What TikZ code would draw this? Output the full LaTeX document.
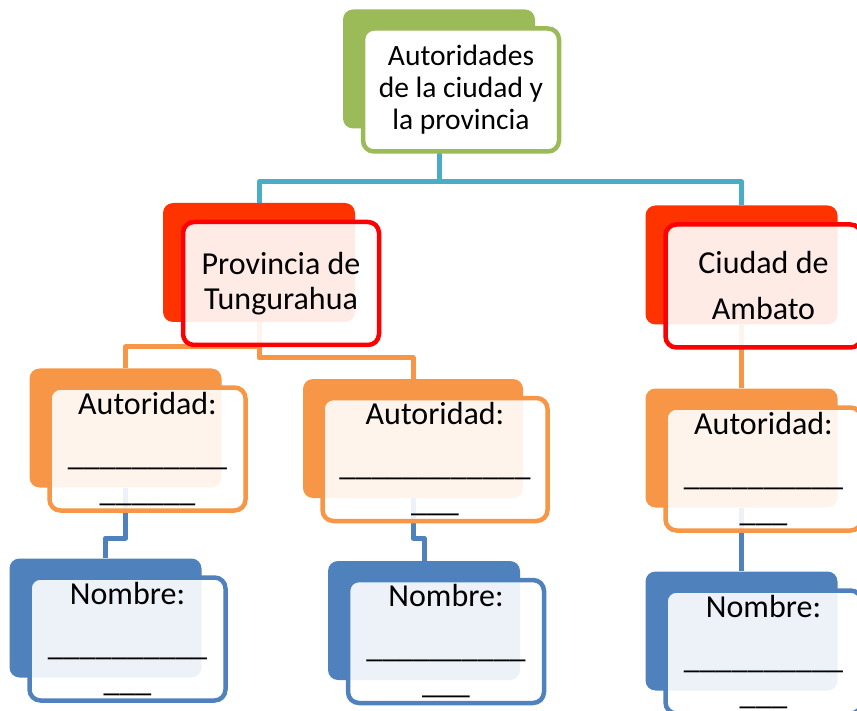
\documentclass[tikz,border=0pt]{standalone}
\usepackage{fontspec}
\setmainfont{Carlito}
\usetikzlibrary{positioning}
\definecolor{cgreen}{HTML}{9BBB59}
\definecolor{cred}{HTML}{FF3300}
\definecolor{credline}{HTML}{FF0000}
\definecolor{corange}{HTML}{F79646}
\definecolor{cblue}{HTML}{4F81BD}
\definecolor{ctop}{HTML}{4BACC6}

\begin{document}
\begin{tikzpicture}[x=1pt,y=-1pt,
 back/.style={rectangle,rounded corners=10pt,fill=#1,minimum width=192pt,minimum height=119pt,inner sep=0pt},
 front/.style={rectangle,rounded corners=11pt,draw=#1,line width=4.5pt,fill=white,fill opacity=0.9,text opacity=1,
   minimum width=196pt,minimum height=123pt,inner sep=0pt,align=center,font=\fontsize{32}{36}\selectfont},
 link/.style={line width=5pt,line join=round}]
\useasboundingbox (0,0) rectangle (857,711);
% back boxes
\node[back=cgreen] (tb) at (439,69) {};
\node[back=cred] (pb) at (259,262.5) {};
\node[back=cred] (cb) at (741.5,265) {};
\node[back=corange] (a1b) at (125.5,428) {};
\node[back=corange,minimum width=220pt] (a2b) at (413,438.5) {};
\node[back=corange] (a3b) at (741.5,448) {};
\node[back=cblue] (n1b) at (105.5,618) {};
\node[back=cblue] (n2b) at (424,620.5) {};
\node[back=cblue] (n3b) at (741.5,631) {};
% connectors
\coordinate (jt) at (439,182);
\coordinate (jpl) at (259,347);
\coordinate (jpr) at (259,358);
\coordinate (jal) at (125.5,538);
\coordinate (jam) at (413,538);
\draw[link,ctop] (tb.south) -- (jt) -| (pb.north);
\draw[link,ctop] (jt) -| (cb.north);
\draw[link,corange] (pb.south) -- (jpl) -| (a1b.north);
\draw[link,corange] (pb.south) -- (jpr) -| (a2b.north);
\draw[link,corange] (cb.south) -- (a3b.north);
\draw[link,cblue] (a1b.south) -- (jal) -| (n1b.north);
\draw[link,cblue] (a2b.south) -- (jam) -| (n2b.north);
\draw[link,cblue] (a3b.south) -- (n3b.north);
% front boxes
\node[front=cgreen,fill opacity=1,font=\fontsize{29.5}{32}\selectfont] (tf) at ([shift={(22,21)}]tb.center)
  {Autoridades\\de la ciudad y\\la provincia};
\node[front=credline] (pf) at ([shift={(22,21)}]pb.center) {Provincia de\\[-1pt]Tungurahua};
\node[front=credline] (cf) at ([shift={(22,21)}]cb.center) {Ciudad de\\[10pt]Ambato};
\node[front=corange] (a1f) at ([shift={(22,21)}]a1b.center)
  {Autoridad:\\[15pt]\_\_\_\_\_\_\_\_\_\_\\\_\_\_\_\_\_};
\node[front=corange,minimum width=225pt] (a2f) at ([shift={(22,21)}]a2b.center)
  {Autoridad:\\[15pt]\_\_\_\_\_\_\_\_\_\_\_\_\\\_\_\_};
\node[front=corange] (a3f) at ([shift={(22,21)}]a3b.center)
  {Autoridad:\\[15pt]\_\_\_\_\_\_\_\_\_\_\\\_\_\_};
\node[front=cblue] (n1f) at ([shift={(22,21)}]n1b.center)
  {Nombre:\\[15pt]\_\_\_\_\_\_\_\_\_\_\\\_\_\_};
\node[front=cblue] (n2f) at ([shift={(22,21)}]n2b.center)
  {Nombre:\\[15pt]\_\_\_\_\_\_\_\_\_\_\\\_\_\_};
\node[front=cblue] (n3f) at ([shift={(22,21)}]n3b.center)
  {Nombre:\\[15pt]\_\_\_\_\_\_\_\_\_\_\\\_\_\_};
\end{tikzpicture}
\end{document}
